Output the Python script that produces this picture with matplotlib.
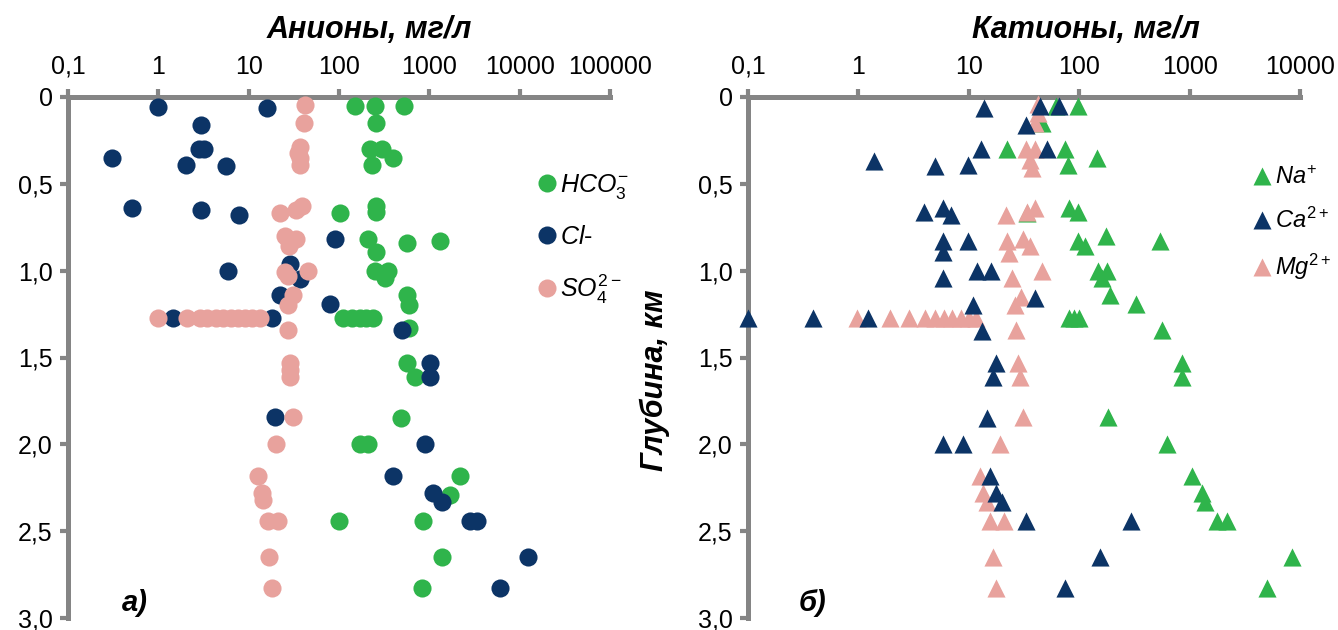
import matplotlib
matplotlib.use('Agg')
import matplotlib.pyplot as plt
from matplotlib.lines import Line2D

plt.rcParams['font.family'] = ['Liberation Sans', 'DejaVu Sans']
plt.rcParams['mathtext.fontset'] = 'custom'
plt.rcParams['mathtext.rm'] = 'Liberation Sans'
plt.rcParams['mathtext.it'] = 'Liberation Sans:italic'

# ---- data: depth (km) and concentration (mg/l) ----
# anions
hco3_depth = [0.05, 0.05, 0.05, 0.15, 0.30, 0.30, 0.35, 0.39, 0.63, 0.66, 0.67, 0.82, 0.89, 0.84, 0.83,
              1.0, 1.0, 1.04, 1.14, 1.20, 1.27, 1.27, 1.27, 1.27, 1.27, 1.33, 1.53, 1.61, 1.85, 2.0, 2.0,
              2.18, 2.29, 2.44, 2.44, 2.65, 2.83]
hco3_val = [150, 250, 520, 260, 220, 300, 400, 230, 255, 260, 102, 210, 260, 560, 1300,
            250, 350, 320, 560, 600, 110, 140, 170, 200, 240, 600, 560, 690, 480, 170, 210,
            2200, 1700, 100, 850, 1380, 830]

cl_depth = [0.06, 0.065, 0.16, 0.30, 0.30, 0.35, 0.39, 0.40, 0.64, 0.65, 0.68, 0.82, 0.96, 1.0, 1.05,
            1.14, 1.19, 1.27, 1.27, 1.34, 1.53, 1.61, 1.84, 2.0, 2.18, 2.28, 2.33, 2.44, 2.44, 2.65, 2.83]
cl_val = [1.0, 16, 3.0, 2.8, 3.2, 0.31, 2.0, 5.6, 0.51, 3.0, 7.8, 91, 29, 5.9, 37,
          22, 80, 1.46, 18, 500, 1020, 1020, 19.5, 890, 400, 1100, 1380, 2800, 3400, 12300, 6000]

so4_depth = [0.045, 0.15, 0.29, 0.32, 0.35, 0.39, 0.63, 0.65, 0.67, 0.80, 0.82, 0.86, 1.0, 1.01, 1.03,
             1.14, 1.20, 1.27, 1.27, 1.27, 1.27, 1.27, 1.27, 1.27, 1.27, 1.27, 1.27, 1.27, 1.34,
             1.53, 1.57, 1.61, 1.84, 2.0, 2.18, 2.28, 2.32, 2.44, 2.44, 2.65, 2.83]
so4_val = [42, 41, 37, 35, 37, 37, 39, 33, 22, 25, 33, 28, 45, 25, 27,
           31, 27, 1.0, 2.1, 2.9, 3.5, 4.3, 5.2, 6.3, 7.6, 9.2, 11, 13.5, 27,
           29, 29, 29, 31, 20, 12.7, 14, 14.5, 16.5, 21, 17, 18]

# cations
na_depth = [0.05, 0.05, 0.15, 0.30, 0.30, 0.35, 0.39, 0.64, 0.66, 0.67, 0.83, 0.80, 0.83, 0.86,
            1.0, 1.0, 1.04, 1.14, 1.19, 1.27, 1.27, 1.27, 1.34, 1.53, 1.61, 1.84, 2.0,
            2.18, 2.28, 2.33, 2.44, 2.44, 2.65, 2.83]
na_val = [98, 62, 46, 22, 74, 144, 79, 81, 98, 34, 98, 174, 535, 112,
          147, 178, 160, 190, 330, 80, 90, 100, 560, 850, 850, 183, 630,
          1050, 1290, 1370, 1780, 2200, 8500, 5000]

ca_depth = [0.065, 0.05, 0.05, 0.16, 0.30, 0.30, 0.37, 0.40, 0.39, 0.66, 0.64, 0.68, 0.83, 0.89, 0.83,
            1.04, 1.0, 1.0, 1.16, 1.20, 1.27, 1.27, 1.27, 1.35, 1.53, 1.61, 1.85, 2.0, 2.0,
            2.18, 2.28, 2.33, 2.44, 2.44, 2.65, 2.83]
ca_val = [13.8, 44, 65, 33, 13, 51, 1.38, 4.9, 9.8, 3.9, 5.8, 6.9, 5.8, 5.8, 9.8,
          5.8, 11.8, 15.9, 40, 11, 0.1, 0.39, 1.22, 13.2, 17.8, 16.5, 14.5, 5.8, 8.9,
          15.5, 17.5, 20, 33, 295, 155, 74]

mg_depth = [0.04, 0.09, 0.15, 0.30, 0.30, 0.36, 0.41, 0.64, 0.66, 0.68, 0.82, 0.83, 0.86, 0.90,
            1.0, 1.04, 1.15, 1.20, 1.27, 1.27, 1.27, 1.27, 1.27, 1.27, 1.27, 1.27, 1.27, 1.27,
            1.34, 1.53, 1.61, 1.84, 2.0, 2.18, 2.28, 2.33, 2.44, 2.44, 2.65, 2.83]
mg_val = [42, 42, 40, 33, 40, 36, 37, 40, 34, 21.5, 31, 22, 36, 23,
          46, 24.5, 30, 26, 0.97, 1.93, 2.9, 4.0, 4.9, 6.0, 7.1, 8.5, 10, 11.7,
          26.5, 28, 29, 31, 19, 12.6, 13.4, 14.6, 15.5, 21, 16.5, 17.5]

depth_ticks = [0, 0.5, 1.0, 1.5, 2.0, 2.5, 3.0]
depth_labels = ['0', '0,5', '1,0', '1,5', '2,0', '2,5', '3,0']
anion_ticks = [0.1, 1, 10, 100, 1000, 10000, 100000]
anion_labels = ['0,1', '1', '10', '100', '1000', '10000', '100000']
cation_ticks = [0.1, 1, 10, 100, 1000, 10000]
cation_labels = ['0,1', '1', '10', '100', '1000', '10000']

GREEN = '#2fb44b'
NAVY = '#0c3466'
PINK = '#e8a29d'
GRAY = '#858585'

fig = plt.figure(figsize=(13.38, 6.30), dpi=100)
axL = fig.add_axes([68 / 1338, 12 / 630, 542 / 1338, 521 / 630])
axR = fig.add_axes([748 / 1338, 12 / 630, 552 / 1338, 521 / 630])


def style_axis(ax, ticks, labels):
    ax.set_xscale('log')
    ax.set_xlim(ticks[0], ticks[-1])
    ax.set_ylim(3.0, 0)
    ax.xaxis.set_ticks_position('top')
    ax.set_xticks(ticks)
    ax.set_xticklabels(labels)
    ax.xaxis.set_minor_locator(matplotlib.ticker.NullLocator())
    ax.set_yticks(depth_ticks)
    ax.set_yticklabels(depth_labels)
    for s in ['right', 'bottom']:
        ax.spines[s].set_visible(False)
    for s in ['left', 'top']:
        ax.spines[s].set_color(GRAY)
        ax.spines[s].set_linewidth(3.6)
    ax.tick_params(axis='both', colors=GRAY, labelcolor='black', width=3, length=6,
                   labelsize=18, pad=5, direction='out')
    ax.tick_params(axis='x', pad=7)


style_axis(axL, anion_ticks, anion_labels)
style_axis(axR, cation_ticks, cation_labels)

kw = dict(s=170, linewidths=0, zorder=3, clip_on=False)
axL.scatter(hco3_val, hco3_depth, color=GREEN, marker='o', **kw)
axL.scatter(cl_val, cl_depth, color=NAVY, marker='o', **kw)
axL.scatter(so4_val, so4_depth, color=PINK, marker='o', **kw)

axR.scatter(na_val, na_depth, color=GREEN, marker='^', **kw)
axR.scatter(mg_val, mg_depth, color=PINK, marker='^', **kw)
axR.scatter(ca_val, ca_depth, color=NAVY, marker='^', **kw)

# legends
hL = [Line2D([], [], ls='', marker='o', ms=13, color=c, mec='none') for c in (GREEN, NAVY, PINK)]
axL.legend(hL, [r'$HCO_3^{-}$', r'$Cl$-', r'$SO_4^{2-}$'], loc='upper left',
           bbox_to_anchor=(0.837, 0.88), frameon=False, fontsize=18,
           handletextpad=0.05, handlelength=1.0, labelspacing=0.95, borderpad=0)
hR = [Line2D([], [], ls='', marker='^', ms=13, color=c, mec='none') for c in (GREEN, NAVY, PINK)]
axR.legend(hR, [r'$Na^{+}$', r'$Ca^{2+}$', r'$Mg^{2+}$'], loc='upper left',
           bbox_to_anchor=(0.888, 0.89), frameon=False, fontsize=17,
           handletextpad=0.05, handlelength=1.0, labelspacing=0.8, borderpad=0)

fig.text(369 / 1338, 1 - 30 / 630, 'Анионы, мг/л', ha='center', va='center',
         fontsize=22, fontweight='bold', fontstyle='italic')
fig.text(1086 / 1338, 1 - 30 / 630, 'Катионы, мг/л', ha='center', va='center',
         fontsize=22, fontweight='bold', fontstyle='italic')
fig.text(655 / 1338, 1 - 380 / 630, 'Глубина, км', ha='center', va='center', rotation=90,
         fontsize=22, fontweight='bold', fontstyle='italic')
fig.text(135 / 1338, 1 - 603 / 630, 'а)', ha='center', va='center',
         fontsize=21, fontweight='bold', fontstyle='italic')
fig.text(813 / 1338, 1 - 603 / 630, 'б)', ha='center', va='center',
         fontsize=21, fontweight='bold', fontstyle='italic')

fig.savefig('out.png', dpi=100, facecolor='white')
